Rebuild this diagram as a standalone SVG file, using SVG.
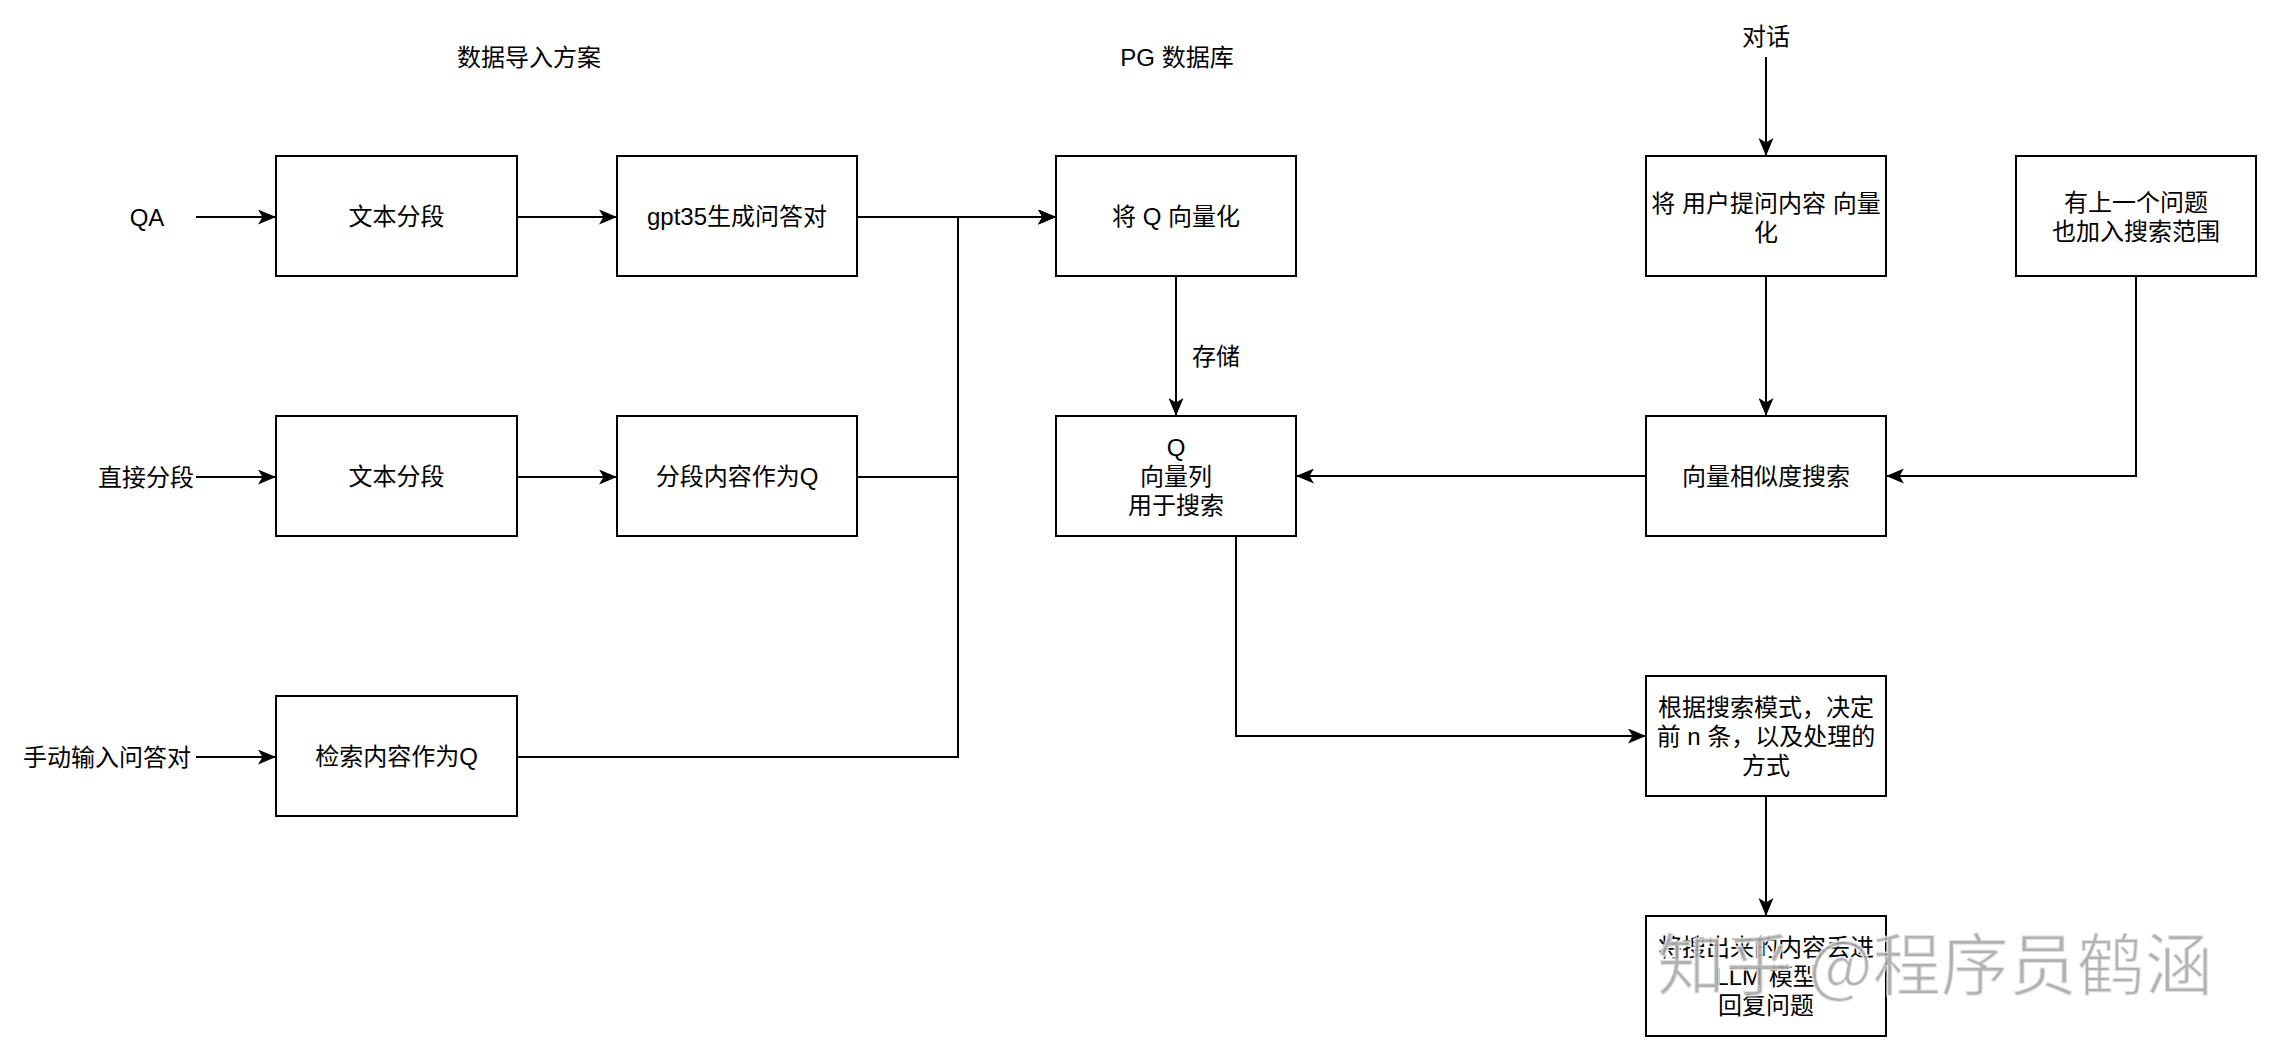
<svg xmlns="http://www.w3.org/2000/svg" width="2274" height="1054" viewBox="0 0 2274 1054">
<style>
.box{fill:#ffffff;stroke:#000000;stroke-width:2}
.t{font-family:"Liberation Sans","Noto Sans CJK SC",sans-serif;font-size:24px;fill:#000000;text-anchor:middle;dominant-baseline:central}
.e{fill:none;stroke:#000000;stroke-width:2}
.wm{font-family:"Noto Sans CJK SC",sans-serif;font-size:68px;fill:#a8a8a8;fill-opacity:0.9;stroke:#ffffff;stroke-width:2;stroke-opacity:0.6;text-anchor:middle;dominant-baseline:central}
</style>
<defs>
<marker id="arr" markerUnits="userSpaceOnUse" viewBox="0 0 18 15" refX="18" refY="7.5" markerWidth="18" markerHeight="15" orient="auto">
<path d="M0,0 L18,7.5 L0,15 L4.5,7.5 Z" fill="#000000"/>
</marker>
</defs>
<rect width="2274" height="1054" fill="#ffffff"/>

<g id="labels">
<text class="t" x="529" y="57">数据导入方案</text>
<text class="t" x="1177" y="57">PG 数据库</text>
<text class="t" x="147" y="217">QA</text>
<text class="t" x="146" y="477">直接分段</text>
<text class="t" x="107" y="757">手动输入问答对</text>
<text class="t" x="1766" y="36">对话</text>
</g>

<g id="connectors">
<path class="e" d="M196 217 H276" marker-end="url(#arr)"/>
<path class="e" d="M517 217 H617" marker-end="url(#arr)"/>
<path class="e" d="M857 217 H1056" marker-end="url(#arr)"/>
<path class="e" d="M857 477 H958 V217 H1056" marker-end="url(#arr)"/>
<path class="e" d="M517 757 H958 V217 H1056" marker-end="url(#arr)"/>
<path class="e" d="M196 477 H276" marker-end="url(#arr)"/>
<path class="e" d="M517 477 H617" marker-end="url(#arr)"/>
<path class="e" d="M196 757 H276" marker-end="url(#arr)"/>
<path class="e" d="M1176 276 V416" marker-end="url(#arr)"/>
<text class="t" x="1216" y="356">存储</text>
<path class="e" d="M1766 57 V156" marker-end="url(#arr)"/>
<path class="e" d="M1766 276 V416" marker-end="url(#arr)"/>
<path class="e" d="M2136 276 V476 H1886" marker-end="url(#arr)"/>
<path class="e" d="M1646 476 H1296" marker-end="url(#arr)"/>
<path class="e" d="M1236 536 V736 H1646" marker-end="url(#arr)"/>
<path class="e" d="M1766 796 V916" marker-end="url(#arr)"/>
</g>

<g id="split1">
<rect class="box" x="276" y="156" width="241" height="120"/>
<text class="t" x="396.5" y="216">文本分段</text>
</g>
<g id="gpt35">
<rect class="box" x="617" y="156" width="240" height="120"/>
<text class="t" x="737" y="216">gpt35生成问答对</text>
</g>
<g id="vectorize">
<rect class="box" x="1056" y="156" width="240" height="120"/>
<text class="t" x="1176" y="216">将 Q 向量化</text>
</g>
<g id="split2">
<rect class="box" x="276" y="416" width="241" height="120"/>
<text class="t" x="396.5" y="476">文本分段</text>
</g>
<g id="segAsQ">
<rect class="box" x="617" y="416" width="240" height="120"/>
<text class="t" x="737" y="476">分段内容作为Q</text>
</g>
<g id="qcol">
<rect class="box" x="1056" y="416" width="240" height="120"/>
<text class="t" x="1176" y="447">Q</text>
<text class="t" x="1176" y="476">向量列</text>
<text class="t" x="1176" y="505">用于搜索</text>
</g>
<g id="searchAsQ">
<rect class="box" x="276" y="696" width="241" height="120"/>
<text class="t" x="396.5" y="756">检索内容作为Q</text>
</g>
<g id="userVec">
<rect class="box" x="1646" y="156" width="240" height="120"/>
<text class="t" x="1766" y="203">将 用户提问内容 向量</text>
<text class="t" x="1766" y="232">化</text>
</g>
<g id="prevQ">
<rect class="box" x="2016" y="156" width="240" height="120"/>
<text class="t" x="2136" y="202">有上一个问题</text>
<text class="t" x="2136" y="231">也加入搜索范围</text>
</g>
<g id="simSearch">
<rect class="box" x="1646" y="416" width="240" height="120"/>
<text class="t" x="1766" y="476">向量相似度搜索</text>
</g>
<g id="mode">
<rect class="box" x="1646" y="676" width="240" height="120"/>
<text class="t" x="1766" y="707">根据搜索模式，决定</text>
<text class="t" x="1766" y="736">前 n 条，以及处理的</text>
<text class="t" x="1766" y="765">方式</text>
</g>
<g id="llm">
<rect class="box" x="1646" y="916" width="240" height="120"/>
<text class="t" x="1766" y="947">将搜出来的内容丢进</text>
<text class="t" x="1766" y="976">LLM 模型</text>
<text class="t" x="1766" y="1005">回复问题</text>
</g>

<text class="wm" x="1935" y="960">知乎 @程序员鹤涵</text>
</svg>
